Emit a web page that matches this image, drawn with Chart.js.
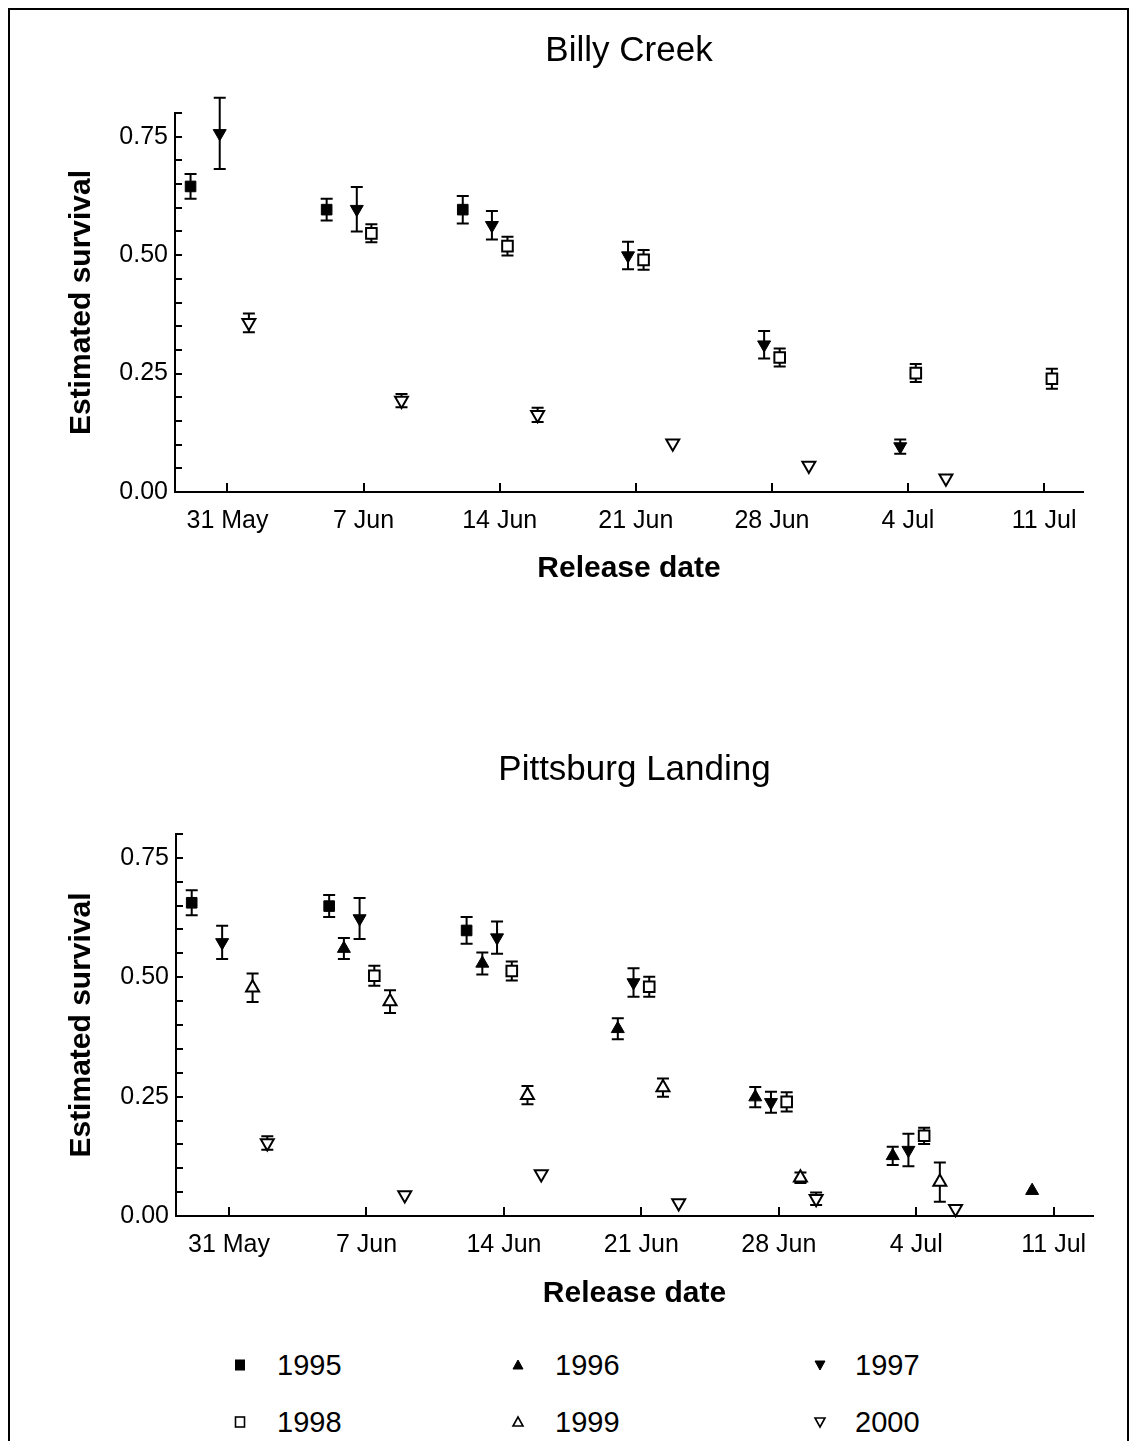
<!DOCTYPE html>
<html>
<head>
<meta charset="utf-8">
<title>Estimated survival by release date</title>
<script src="https://cdn.jsdelivr.net/npm/chart.js@4/dist/chart.umd.min.js"></script>
<style>
  html, body { margin: 0; padding: 0; background: #fff; }
  body {
    width: 1137px; height: 1441px; position: relative; overflow: hidden;
    font-family: "Liberation Sans", Arial, Helvetica, sans-serif; color: #000;
  }
  #frame {
    position: absolute; left: 8px; top: 8px; width: 1117px; height: 1480px;
    border: 2px solid #000; pointer-events: none;
  }
  .panel { position: absolute; left: 0; }
  #legend .item {
    position: absolute; font-size: 29px; line-height: 34px; white-space: nowrap;
  }
  #legend svg { position: absolute; }
</style>
</head>
<body>
<div id="frame"></div>
<canvas id="billy" class="panel" width="1137" height="620" style="top:0px"></canvas>
<canvas id="pitts" class="panel" width="1137" height="620" style="top:724px"></canvas>
<div id="legend"></div>

<script>
// ---- axis ticks (x values are days after 31 May) ----
const xTickDays   = [0, 7, 14, 21, 28, 35, 42];
const xTickLabels = ['31 May', '7 Jun', '14 Jun', '21 Jun', '28 Jun', '4 Jul', '11 Jul'];
const yTickValues = [0, 0.25, 0.50, 0.75];
const years = ['1995', '1996', '1997', '1998', '1999', '2000'];

// ---- Billy Creek: release day, estimated survival, standard error ----
const bcDay1995  = [-1.9, 5.1, 12.1];
const bcSurv1995 = [0.645, 0.596, 0.596];
const bcSe1995   = [0.026, 0.023, 0.029];

const bcDay1997  = [-0.4, 6.65, 13.6, 20.6, 27.6, 34.6];
const bcSurv1997 = [0.757, 0.597, 0.563, 0.499, 0.311, 0.096];
const bcSe1997   = [0.075, 0.047, 0.030, 0.029, 0.029, 0.015];

const bcDay1998  = [7.4, 14.4, 21.4, 28.4, 35.4, 42.4];
const bcSurv1998 = [0.546, 0.519, 0.490, 0.284, 0.251, 0.239];
const bcSe1998   = [0.019, 0.020, 0.021, 0.019, 0.019, 0.021];

const bcDay2000  = [1.1, 8.95, 15.95, 22.9, 29.9, 36.95];
const bcSurv2000 = [0.357, 0.193, 0.163, 0.103, 0.056, 0.029];
const bcSe2000   = [0.020, 0.014, 0.015, 0, 0, 0];

// ---- Pittsburg Landing ----
const plDay1995  = [-1.9, 5.1, 12.1];
const plSurv1995 = [0.656, 0.649, 0.598];
const plSe1995   = [0.026, 0.023, 0.028];

const plDay1996  = [5.85, 12.9, 19.8, 26.8, 33.8, 40.9];
const plSurv1996 = [0.560, 0.529, 0.392, 0.249, 0.126, 0.053];
const plSe1996   = [0.022, 0.023, 0.022, 0.021, 0.019, 0];

const plDay1997  = [-0.35, 6.65, 13.65, 20.6, 27.6, 34.6];
const plSurv1997 = [0.573, 0.623, 0.583, 0.489, 0.238, 0.138];
const plSe1997   = [0.035, 0.043, 0.034, 0.030, 0.022, 0.034];

const plDay1998  = [7.4, 14.4, 21.4, 28.4, 35.4];
const plSurv1998 = [0.503, 0.513, 0.480, 0.239, 0.168];
const plSe1998   = [0.021, 0.020, 0.021, 0.020, 0.017];

const plDay1999  = [1.2, 8.2, 15.2, 22.1, 29.1, 36.2];
const plSurv1999 = [0.478, 0.449, 0.253, 0.269, 0.080, 0.071];
const plSe1999   = [0.030, 0.024, 0.019, 0.019, 0.011, 0.041];

const plDay2000  = [1.95, 8.95, 15.9, 22.9, 29.9, 37.0];
const plSurv2000 = [0.153, 0.044, 0.088, 0.027, 0.036, 0.015];
const plSe2000   = [0.014, 0, 0, 0, 0.013, 0];

// ---- marker look for each release year ----
const markerLook = {
  '1995': { shape: 'rect',     rotation: 0,   filled: true  },
  '1996': { shape: 'triangle', rotation: 0,   filled: true  },
  '1997': { shape: 'triangle', rotation: 180, filled: true  },
  '1998': { shape: 'rect',     rotation: 0,   filled: false },
  '1999': { shape: 'triangle', rotation: 0,   filled: false },
  '2000': { shape: 'triangle', rotation: 180, filled: false }
};

const FONT = '"Liberation Sans", Arial, Helvetica, sans-serif';

function series(year, days, surv, se) {
  const look = markerLook[year];
  return {
    label: year,
    data: days.map((d, i) => ({ x: d, y: surv[i], e: se[i] })),
    pointStyle: look.shape,
    rotation: look.rotation,
    pointRadius: 7.5,
    pointBackgroundColor: look.filled ? '#000' : '#fff',
    pointBorderColor: '#000',
    pointBorderWidth: look.filled ? 1 : 2,
    showLine: false,
    clip: false
  };
}

// vertical standard-error bars with caps, drawn beneath the markers
const errorBars = {
  id: 'errorBars',
  beforeDatasetsDraw(chart) {
    const { ctx, scales: { y } } = chart;
    ctx.save();
    ctx.strokeStyle = '#000';
    ctx.lineWidth = 2;
    chart.data.datasets.forEach((ds, i) => {
      const meta = chart.getDatasetMeta(i);
      ds.data.forEach((pt, j) => {
        if (!pt.e) return;
        const px = meta.data[j].x;
        const top = y.getPixelForValue(pt.y + pt.e);
        const bot = y.getPixelForValue(pt.y - pt.e);
        ctx.beginPath();
        ctx.moveTo(px, top); ctx.lineTo(px, bot);
        ctx.moveTo(px - 6, top); ctx.lineTo(px + 6, top);
        ctx.moveTo(px - 6, bot); ctx.lineTo(px + 6, bot);
        ctx.stroke();
      });
    });
    ctx.restore();
  }
};

// tick marks pointing into the plot area
const inwardTicks = {
  id: 'inwardTicks',
  afterDraw(chart) {
    const { ctx, chartArea, scales: { x, y } } = chart;
    ctx.save();
    ctx.strokeStyle = '#000';
    ctx.lineWidth = 2;
    ctx.beginPath();
    xTickDays.forEach(v => {
      const px = Math.round(x.getPixelForValue(v));
      ctx.moveTo(px, chartArea.bottom);
      ctx.lineTo(px, chartArea.bottom - 9);
    });
    for (let k = 0; k <= 16; k++) {
      const py = Math.round(y.getPixelForValue(k * 0.05));
      ctx.moveTo(chartArea.left, py);
      ctx.lineTo(chartArea.left + 7, py);
    }
    ctx.stroke();
    ctx.restore();
  }
};

function makePanel(canvasId, titleText, datasets, geo) {
  return new Chart(document.getElementById(canvasId), {
    type: 'scatter',
    data: { datasets },
    plugins: [errorBars, inwardTicks],
    options: {
      responsive: false,
      animation: false,
      events: [],
      layout: { padding: { left: 0, right: geo.padRight, top: 0, bottom: 0 } },
      plugins: {
        legend: { display: false },
        tooltip: { enabled: false },
        title: {
          display: true, text: titleText, color: '#000',
          fullSize: false,          // centre the title over the plot area
          font: { family: FONT, size: 35, weight: 'normal' },
          padding: { top: geo.titleTop, bottom: geo.titleBottom }
        }
      },
      scales: {
        x: {
          type: 'linear', min: -2.7, max: 44,
          afterBuildTicks: s => { s.ticks = xTickDays.map(v => ({ value: v })); },
          afterFit: s => { s.height = geo.xAxisHeight; },
          ticks: {
            callback: v => xTickLabels[xTickDays.indexOf(v)],
            color: '#000', font: { family: FONT, size: 25 },
            padding: 14, maxRotation: 0, autoSkip: false
          },
          grid: { display: false, drawTicks: false },
          border: { display: true, color: '#000', width: 2 },
          title: {
            display: true, text: 'Release date', color: '#000',
            font: { family: FONT, size: 30, weight: 'bold' },
            padding: { top: 0, bottom: geo.xTitleBottom }
          }
        },
        y: {
          type: 'linear', min: 0, max: 0.8,
          afterBuildTicks: s => { s.ticks = yTickValues.map(v => ({ value: v })); },
          afterFit: s => { s.width = geo.plotLeft; },
          ticks: {
            callback: v => v.toFixed(2),
            color: '#000', font: { family: FONT, size: 25 }, padding: 7
          },
          grid: { display: false, drawTicks: false },
          border: { display: true, color: '#000', width: 2 },
          title: {
            display: true, text: 'Estimated survival', color: '#000',
            font: { family: FONT, size: 30, weight: 'bold' },
            padding: { top: geo.yTitleTop, bottom: 0 }
          }
        }
      }
    }
  });
}

makePanel('billy', 'Billy Creek', [
  series('1995', bcDay1995, bcSurv1995, bcSe1995),
  series('1997', bcDay1997, bcSurv1997, bcSe1997),
  series('1998', bcDay1998, bcSurv1998, bcSe1998),
  series('2000', bcDay2000, bcSurv2000, bcSe2000)
], { plotLeft: 175, padRight: 54, titleTop: 30, titleBottom: 41,
     xAxisHeight: 128, xTitleBottom: 33, yTitleTop: 64 });

makePanel('pitts', 'Pittsburg Landing', [
  series('1995', plDay1995, plSurv1995, plSe1995),
  series('1996', plDay1996, plSurv1996, plSe1996),
  series('1997', plDay1997, plSurv1997, plSe1997),
  series('1998', plDay1998, plSurv1998, plSe1998),
  series('1999', plDay1999, plSurv1999, plSe1999),
  series('2000', plDay2000, plSurv2000, plSe2000)
], { plotLeft: 176, padRight: 44, titleTop: 25.5, titleBottom: 42.5,
     xAxisHeight: 128, xTitleBottom: 32, yTitleTop: 64 });

// ---- shared legend: three columns, two rows ----
(function buildLegend() {
  const legend = document.getElementById('legend');
  const colMarkerX = [240, 518, 820];
  const colTextX = [277, 555, 855];
  const rowY = [1365, 1422];
  years.forEach((yr, i) => {
    const look = markerLook[yr];
    const col = i % 3, row = Math.floor(i / 3);
    const ns = 'http://www.w3.org/2000/svg';
    const svg = document.createElementNS(ns, 'svg');
    svg.setAttribute('width', '14'); svg.setAttribute('height', '14');
    svg.style.left = (colMarkerX[col] - 7) + 'px';
    svg.style.top = (rowY[row] - 7) + 'px';
    let shape;
    if (look.shape === 'rect') {
      shape = document.createElementNS(ns, 'rect');
      shape.setAttribute('x', '2.5'); shape.setAttribute('y', '2');
      shape.setAttribute('width', '9'); shape.setAttribute('height', '10');
    } else {
      shape = document.createElementNS(ns, 'polygon');
      shape.setAttribute('points', look.rotation ? '2,3 12,3 7,12' : '2,11 12,11 7,2');
    }
    shape.setAttribute('fill', look.filled ? '#000' : '#fff');
    shape.setAttribute('stroke', '#000');
    shape.setAttribute('stroke-width', look.filled ? '1' : '1.6');
    svg.appendChild(shape);
    legend.appendChild(svg);
    const label = document.createElement('div');
    label.className = 'item';
    label.textContent = yr;
    label.style.left = colTextX[col] + 'px';
    label.style.top = (rowY[row] - 17) + 'px';
    legend.appendChild(label);
  });
})();
</script>
</body>
</html>
